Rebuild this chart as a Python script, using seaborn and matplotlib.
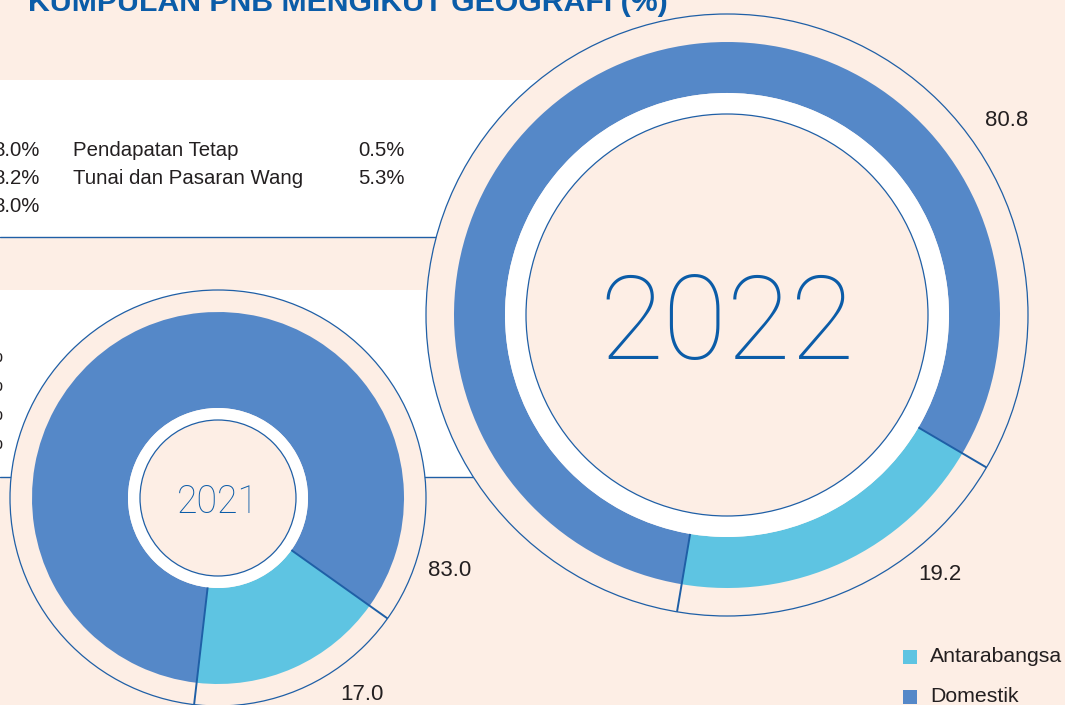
import numpy as np
import matplotlib
matplotlib.use("Agg")
import matplotlib.pyplot as plt
from matplotlib.patches import Circle, Rectangle
import seaborn as sns

# ---- data -------------------------------------------------------------
years = ["2021", "2022"]
regions = ["Antarabangsa", "Domestik"]
antarabangsa = [17.0, 19.2]
domestik = [83.0, 80.8]

table_left_values = ["8.0%", "8.2%", "8.0%"]
table_right_labels = ["Pendapatan Tetap", "Tunai dan Pasaran Wang"]
table_right_values = ["0.5%", "5.3%"]
table2_tails = ["%", "%", "%", "%"]

title = "KUMPULAN PNB MENGIKUT GEOGRAFI (%)"

# ---- style ------------------------------------------------------------
sns.set_style("white")
plt.rcParams["font.family"] = ["Liberation Sans", "DejaVu Sans"]

PEACH = "#FDEEE5"
NAVY = "#0B5CA8"
LINE = "#1F5FA6"
TEXT = "#231F20"
colors = sns.color_palette(["#5EC4E2", "#5588C8"])

W, H = 1065, 705
fig = plt.figure(figsize=(W / 100, H / 100), dpi=100, facecolor=PEACH)
ax = fig.add_axes([0, 0, 1, 1])
ax.set_facecolor(PEACH)


def Y(y_top):
    """Convert a top-based pixel row to the axis' bottom-based coordinate."""
    return H - y_top


# ---- white panels behind the circles ---------------------------------
for top, bottom in [(80, 237), (290, 477)]:
    ax.add_patch(Rectangle((0, Y(bottom)), 620, bottom - top,
                           facecolor="white", edgecolor="none", zorder=0))
    ax.plot([0, 620], [Y(bottom), Y(bottom)], color=LINE, lw=1.0, zorder=0.5)

# table text in the upper panel
for i, v in enumerate(table_left_values):
    ax.text(40, Y(150 + 28.5 * i), v, ha="right", va="center",
            fontsize=14.7, color=TEXT, zorder=0.6)
for i, (lab, v) in enumerate(zip(table_right_labels, table_right_values)):
    ax.text(73, Y(150 + 28.5 * i), lab, ha="left", va="center",
            fontsize=14.7, color=TEXT, zorder=0.6)
    ax.text(405, Y(150 + 28.5 * i), v, ha="right", va="center",
            fontsize=14.7, color=TEXT, zorder=0.6)
for i, v in enumerate(table2_tails):
    ax.text(2, Y(357 + 28.7 * i), v, ha="right", va="center",
            fontsize=14.7, color=TEXT, zorder=0.6)

# ---- donuts -------------------------------------------------------------
layout = {
    "2021": dict(c=(218, 498), r_ring=208, r_out=186, r_in=90, r_core=78,
                 mid=294, year_fs=27,
                 lab_int=(362, 695), lab_dom=(450, 570)),
    "2022": dict(c=(727, 315), r_ring=301, r_out=273, r_in=222, r_core=201,
                 mid=295, year_fs=84,
                 lab_int=(940, 575), lab_dom=(1007, 120)),
}

for yr, a, d in zip(years, antarabangsa, domestik):
    L = layout[yr]
    cx, cy = L["c"][0], Y(L["c"][1])
    span = 360 * a / (a + d)
    start = L["mid"] - span / 2

    ax.add_patch(Circle((cx, cy), L["r_ring"], facecolor=PEACH,
                        edgecolor=LINE, lw=0.9, zorder=1))
    wedges, _ = ax.pie([a, d], colors=colors, startangle=start,
                       counterclock=True, radius=L["r_out"], center=(cx, cy),
                       wedgeprops=dict(width=L["r_out"] - L["r_in"],
                                       linewidth=0))
    for w in wedges:
        w.set_zorder(2)
    ax.add_patch(Circle((cx, cy), L["r_in"], facecolor="white",
                        edgecolor="none", zorder=3))
    ax.add_patch(Circle((cx, cy), L["r_core"], facecolor=PEACH,
                        edgecolor=LINE, lw=0.9, zorder=4))

    # dividers at both edges of the international share
    for ang in (start, start + span):
        t = np.deg2rad(ang)
        ax.plot([cx + L["r_in"] * np.cos(t), cx + L["r_ring"] * np.cos(t)],
                [cy + L["r_in"] * np.sin(t), cy + L["r_ring"] * np.sin(t)],
                color=LINE, lw=1.4, zorder=5, solid_capstyle="butt")

    ax.text(cx, cy, yr, ha="center", va="center_baseline",
            fontsize=L["year_fs"], color=NAVY, fontfamily="Roboto",
            fontweight="light", zorder=6)
    ax.text(L["lab_int"][0], Y(L["lab_int"][1]), f"{a:.1f}",
            ha="center", va="center", fontsize=16, color=TEXT, zorder=6)
    ax.text(L["lab_dom"][0], Y(L["lab_dom"][1]), f"{d:.1f}",
            ha="center", va="center", fontsize=16, color=TEXT, zorder=6)

# ---- legend -----------------------------------------------------------
for i, (name, col) in enumerate(zip(regions, colors)):
    yc = 657 + 40 * i
    ax.add_patch(Rectangle((903, Y(yc + 7)), 14, 14, facecolor=col,
                           edgecolor="none", zorder=6))
    ax.text(930, Y(yc), name, ha="left", va="center", fontsize=15.3,
            color=TEXT, zorder=6)

# ---- heading (runs off the top edge) -----------------------------------
ax.text(28, Y(11), title, ha="left", va="baseline", fontsize=21.8,
        fontweight="bold", color=NAVY, zorder=6)

ax.set_xlim(0, W)
ax.set_ylim(0, H)
ax.set_aspect("equal")
ax.axis("off")

fig.savefig("out.png", dpi=100, facecolor=PEACH)
